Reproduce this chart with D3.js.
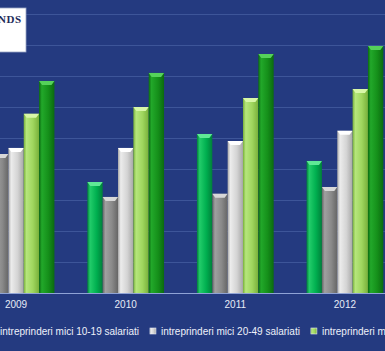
<!DOCTYPE html>
<html>
<head>
<meta charset="utf-8">
<script src="https://cdn.jsdelivr.net/npm/d3@7"></script>
<style>
  html, body { margin:0; padding:0; background:#243a80; overflow:hidden; }
  svg { display:block; }
</style>
</head>
<body>
<script>
var ani = ["2009", "2010", "2011", "2012"];
var serii = ["microintreprinderi", "intreprinderi mici 10-19 salariati", "intreprinderi mici 20-49 salariati", "intreprinderi mijlocii", "intreprinderi mari"];

var valMicro   = [2150, 1790, 2565, 2130];
var valMici1   = [2240, 1550, 1600, 1710];
var valMici2   = [2340, 2340, 2450, 2615];
var valMijlocii = [2890, 3000, 3145, 3290];
var valMari    = [3420, 3550, 3855, 3985];
var valori = [valMicro, valMici1, valMici2, valMijlocii, valMari];

var yTicks = [0, 500, 1000, 1500, 2000, 2500, 3000, 3500, 4000, 4500];

// culori: baza, margine inchisa, lumina, capac
var culori = [
  {baza:"#00b050", dark:"#00803a", light:"#22cc6a", cap:"#5fe896"},
  {baza:"#8a8a8a", dark:"#666666", light:"#a0a0a0", cap:"#d8d8d8"},
  {baza:"#d4d4d4", dark:"#a8a8a8", light:"#ececec", cap:"#ffffff"},
  {baza:"#9fd65e", dark:"#78b03a", light:"#b6e67c", cap:"#d8f7a8"},
  {baza:"#15901a", dark:"#0b6a10", light:"#22a82a", cap:"#55d25a"}
];

var totalWidth = 385;
var totalHeight = 351;

var svg = d3.select("body")
    .append("svg")
    .attr("width", totalWidth)
    .attr("height", totalHeight);

svg.append("rect")
   .attr("width", totalWidth)
   .attr("height", totalHeight)
   .attr("fill", "#243a80");

var defs = svg.append("defs");
culori.forEach(function(c, i) {
  var g = defs.append("linearGradient")
              .attr("id", "grad" + i)
              .attr("x1", "0%").attr("y1", "0%")
              .attr("x2", "100%").attr("y2", "0%");
  g.append("stop").attr("offset", "0%").attr("stop-color", c.dark);
  g.append("stop").attr("offset", "18%").attr("stop-color", c.light);
  g.append("stop").attr("offset", "60%").attr("stop-color", c.baza);
  g.append("stop").attr("offset", "100%").attr("stop-color", c.dark);
});

var y = d3.scaleLinear()
          .domain([0, 4500])
          .range([293, 14]);

var x0 = d3.scaleBand()
           .domain(ani)
           .range([-38.75, 399.75])
           .paddingInner(0.3)
           .paddingOuter(0.15);

var x1 = d3.scaleBand()
           .domain(d3.range(serii.length))
           .range([0, x0.bandwidth()]);

// linii de grila
svg.selectAll("line.grid")
   .data(yTicks.slice(1))
   .enter()
   .append("line")
   .attr("class", "grid")
   .attr("x1", 0)
   .attr("x2", totalWidth)
   .attr("y1", d => Math.round(y(d)) + 0.5)
   .attr("y2", d => Math.round(y(d)) + 0.5)
   .attr("stroke", "#3d5599")
   .attr("stroke-width", 1);

var grupuri = svg.selectAll("g.an")
   .data(ani)
   .enter()
   .append("g")
   .attr("class", "an")
   .attr("transform", d => "translate(" + x0(d) + ",0)");

var bare = grupuri.selectAll("g.bara")
   .data((d, i) => valori.map((v, s) => ({s:s, v:v[i]})))
   .enter()
   .append("g")
   .attr("class", "bara");

bare.append("rect")
    .attr("x", d => x1(d.s))
    .attr("y", d => y(d.v))
    .attr("width", x1.bandwidth())
    .attr("height", d => y(0) - y(d.v))
    .attr("fill", d => "url(#grad" + d.s + ")");

// capacul tesit de sus
bare.append("path")
    .attr("d", function(d) {
      var xa = x1(d.s), w = x1.bandwidth(), t = y(d.v);
      return "M" + xa + "," + t + "L" + (xa + w) + "," + t +
             "L" + (xa + w - 3) + "," + (t + 4) + "L" + (xa + 3) + "," + (t + 4) + "Z";
    })
    .attr("fill", d => culori[d.s].cap);

// axa de baza
svg.append("line")
   .attr("x1", 0).attr("x2", totalWidth)
   .attr("y1", 293.5).attr("y2", 293.5)
   .attr("stroke", "#8fa3d6")
   .attr("stroke-width", 1);

var xAxis = d3.axisBottom(x0).tickSize(0).tickPadding(7);
var ax = svg.append("g")
   .attr("transform", "translate(0,294)")
   .call(xAxis);
ax.select(".domain").remove();
ax.selectAll("text")
  .attr("fill", "#e6ebf7")
  .style("font-family", "Liberation Sans, Arial, sans-serif")
  .style("font-size", "10px");

// legenda
var legY = 331;
var leg = svg.append("g");
var itemi = leg.selectAll("g.item")
   .data(serii)
   .enter()
   .append("g")
   .attr("class", "item");

itemi.append("rect")
     .attr("width", 6)
     .attr("height", 6)
     .attr("y", legY - 3)
     .attr("fill", (d, i) => "url(#grad" + i + ")")
     .attr("stroke", "#e8ecf6")
     .attr("stroke-width", 0.6);

itemi.append("text")
     .attr("x", 11)
     .attr("y", legY + 3.5)
     .attr("fill", "#eef1fa")
     .style("font-family", "Liberation Sans, Arial, sans-serif")
     .style("font-size", "10px")
     .text(d => d);

var latimi = [];
itemi.selectAll("text").each(function() { latimi.push(this.getComputedTextLength()); });
var pozX = [];
pozX[1] = -11;
pozX[0] = pozX[1] - 11 - 11 - latimi[0];
for (var i = 2; i < serii.length; i++) {
  pozX[i] = pozX[i - 1] + 11 + latimi[i - 1] + 11;
}
itemi.attr("transform", (d, i) => "translate(" + pozX[i] + ",0)");

// caseta logo
svg.append("rect")
   .attr("x", -60)
   .attr("y", 8)
   .attr("width", 86)
   .attr("height", 44)
   .attr("fill", "#ffffff")
   .attr("stroke", "#9aa6c4")
   .attr("stroke-width", 0.8);

svg.append("text")
   .attr("x", 21.5)
   .attr("y", 22.5)
   .attr("text-anchor", "end")
   .attr("fill", "#1d2b5a")
   .style("font-family", "Liberation Serif, serif")
   .style("font-size", "11px")
   .style("font-weight", "bold")
   .style("letter-spacing", "0.5px")
   .text("TRENDS");
</script>
</body>
</html>
